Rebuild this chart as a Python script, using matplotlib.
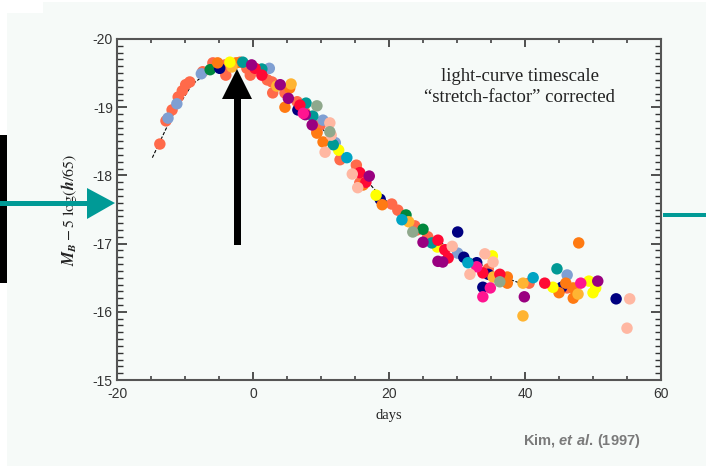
import matplotlib
matplotlib.use("Agg")
import matplotlib.pyplot as plt
from matplotlib.patches import Polygon
from matplotlib.ticker import MultipleLocator

plt.rcParams['axes.unicode_minus'] = False
plt.rcParams['mathtext.fontset'] = 'custom'
plt.rcParams['mathtext.it'] = 'Liberation Sans:italic:bold'
plt.rcParams['mathtext.rm'] = 'Liberation Sans:bold'

# ---------------- data (days, M_B - 5log(h/65)) ----------------
coral_d = [-13.7, -12.8, -11.9, -11.0, -10.4, -9.9, -9.3, -7.4, -5.9, -4.1, -4.0, -1.9, -0.9, -0.4,
           2.1, 2.8, 2.9, 4.7, 6.5, 7.6, 9.9, 9.4, 12.8, 15.2, 15.3, 15.7, 20.4, 21.3, 23.8, 24.1,
           25.7, 34.6, 40.6, 46.2]
coral_m = [-18.46, -18.80, -18.96, -19.15, -19.24, -19.33, -19.37, -19.52, -19.65, -19.62, -19.47,
           -19.66, -19.57, -19.47, -19.40, -19.37, -19.21, -19.21, -19.08, -18.93, -18.74, -18.64,
           -18.23, -18.15, -18.08, -17.89, -17.58, -17.49, -17.26, -17.20, -17.10, -16.63, -16.42,
           -16.35]
orange_d = [-5.2, -2.5, 5.4, 4.7, 9.4, 10.3, 16.2, 19.0, 37.4, 37.4, 46.0, 45.0, 47.1, 47.1, 47.9]
orange_m = [-19.65, -19.65, -19.28, -19.00, -18.62, -18.49, -17.86, -17.57, -16.51, -16.42, -16.42,
            -16.28, -16.20, -16.35, -17.01]
gold_d = [-3.1, 3.5, 5.6, 22.9, 35.3, 39.7, 39.7, 47.8]
gold_m = [-19.59, -19.31, -19.34, -17.32, -16.51, -16.42, -15.94, -16.26]
steel_d = [-11.2, -12.5, -7.6, 2.4, 10.3, 12.1, 30.1, 46.2]
steel_m = [-19.05, -18.84, -19.49, -19.57, -18.81, -18.48, -16.86, -16.54]
green_d = [-6.3, 22.5, 25.0]
green_m = [-19.55, -17.42, -17.21]
navy_d = [-4.9, 6.6, 18.7, 30.1, 31.0, 32.9, 34.6, 33.8, 45.4, 53.4]
navy_m = [-19.57, -18.96, -17.65, -17.17, -16.80, -16.72, -16.55, -16.36, -16.36, -16.19]
yellow_d = [-3.4, 12.6, 18.1, 27.1, 35.2, 44.1, 49.4, 50.4, 50.0]
yellow_m = [-19.66, -18.37, -17.71, -16.95, -16.82, -16.36, -16.45, -16.35, -16.28]
teal_d = [-1.5, 1.3, 7.8, 8.8, 11.8, 26.3, 44.7]
teal_m = [-19.66, -19.56, -19.06, -18.87, -18.45, -17.01, -16.63]
red_d = [0.3, 1.3, 6.9, 16.6, 15.7, 27.2, 28.2, 28.7, 33.8, 36.3, 42.9]
red_m = [-19.57, -19.47, -19.03, -17.90, -18.04, -17.05, -16.91, -16.79, -16.57, -16.55, -16.42]
purple_d = [-0.2, 4.0, 5.2, 7.7, 8.7, 17.1, 25.0, 27.2, 27.9, 39.9, 50.7]
purple_m = [-19.62, -19.33, -19.13, -18.89, -18.74, -17.99, -17.02, -16.74, -16.73, -16.22, -16.45]
pink_d = [7.4, 32.9, 34.9, 33.8, 48.2]
pink_m = [-18.91, -16.66, -16.35, -16.22, -16.42]
peach_d = [11.3, 11.5, 10.6, 14.6, 15.4, 29.3, 31.9, 34.1, 35.3, 55.4, 55.0]
peach_m = [-18.77, -18.59, -18.34, -18.02, -17.82, -16.96, -16.55, -16.85, -16.73, -16.19, -15.76]
sage_d = [9.4, 11.3, 23.5, 36.3]
sage_m = [-19.02, -18.64, -17.17, -16.44]
cyan_d = [13.8, 21.9, 31.6, 41.2]
cyan_m = [-18.26, -17.35, -16.72, -16.50]

template_d = [-14.8, -12, -9, -6, -3, 0, 3, 6, 9, 12, 15, 18, 21, 24, 27, 30, 33, 36, 39]
template_m = [-18.26, -18.85, -19.33, -19.56, -19.65, -19.62, -19.42, -19.13, -18.83, -18.47,
              -18.12, -17.78, -17.49, -17.25, -17.05, -16.88, -16.73, -16.54, -16.43]

series = [
    (coral_d, coral_m, '#ff6a4a'), (steel_d, steel_m, '#7f9fd2'), (green_d, green_m, '#00873d'),
    (navy_d, navy_m, '#000080'), (orange_d, orange_m, '#ff7a12'), (gold_d, gold_m, '#ffb432'),
    (yellow_d, yellow_m, '#ffff00'), (teal_d, teal_m, '#009995'), (red_d, red_m, '#ff0a35'),
    (purple_d, purple_m, '#990080'), (pink_d, pink_m, '#ff1490'), (peach_d, peach_m, '#ffb7a2'),
    (sage_d, sage_m, '#8fa88c'), (cyan_d, cyan_m, '#00a4c4'),
]

W, H = 706, 466
BG = '#f6faf8'
fig = plt.figure(figsize=(W / 100, H / 100), dpi=100, facecolor=BG)

ax = fig.add_axes([117 / W, 1 - 380 / H, 544 / W, 341 / H])
ax.set_facecolor(BG)

ax.plot(template_d, template_m, color='black', lw=0.8, ls=(0, (3, 1.5)), zorder=1)
for d, m, c in series:
    ax.scatter(d, m, s=68, color=c, edgecolors='none', zorder=2)

ax.set_xlim(-20, 60)
ax.set_ylim(-15, -20)
ax.xaxis.set_major_locator(MultipleLocator(20))
ax.xaxis.set_minor_locator(MultipleLocator(5))
ax.yaxis.set_major_locator(MultipleLocator(1))
ax.yaxis.set_minor_locator(MultipleLocator(0.1))

for s in ax.spines.values():
    s.set_color('#555555')
    s.set_linewidth(1.5)

ax.tick_params(axis='both', which='both', direction='in', top=True, right=True,
               colors='#333333', labelsize=10)
ax.tick_params(axis='x', which='major', length=6, width=1.2, pad=5)
ax.tick_params(axis='x', which='minor', length=3, width=1.1)
ax.tick_params(axis='y', which='major', length=7.5, width=1.2, pad=3)
ax.tick_params(axis='y', which='minor', length=4.5, width=1.0)
for lab in ax.get_xticklabels() + ax.get_yticklabels():
    lab.set_fontfamily('Liberation Sans')

ax.set_xlabel('days', family='Liberation Serif', fontsize=10.5, color='#222222', labelpad=6)
ax.set_ylabel(r'$\mathbfit{M}_{\mathbfit{B}} - 5\ \mathrm{log}(\mathbfit{h}/65)$', fontsize=11.5,
              color='#222222', labelpad=10, math_fontfamily='stix')

ax.text(0.74, 0.86, 'light-curve timescale\n\u201cstretch-factor\u201d corrected',
        transform=ax.transAxes, ha='center', va='center', family='Liberation Serif',
        fontsize=13.5, color='#222222', linespacing=1.3)

fig.text(582 / W, 1 - 441 / H, r'Kim, $et\ al.\,$(1997)', ha='center', va='center',
         family='Liberation Sans', fontweight='bold', fontsize=10.5, color='#7a7a7a',
         math_fontfamily='custom')


def px(x, y):
    return (x / W, 1 - y / H)


def poly(pts, color, z=10):
    fig.add_artist(Polygon([px(*p) for p in pts], closed=True, facecolor=color,
                           edgecolor='none', transform=fig.transFigure, zorder=z))


# white margins
poly([(0, 0), (7, 0), (7, H), (0, H)], 'white', 5)
poly([(0, 0), (43, 0), (43, 13), (0, 13)], 'white', 5)
poly([(0, 0), (W, 0), (W, 2), (0, 2)], 'white', 5)

# black bar on the left
poly([(0, 135), (7, 135), (7, 283), (0, 283)], 'black', 11)

# teal arrow from the left
teal = '#009a96'
poly([(0, 200.5), (88, 200.5), (88, 205.5), (0, 205.5)], teal, 12)
poly([(87, 188), (115, 203), (87, 219)], teal, 12)
# teal line on the right
poly([(663, 213), (W, 213), (W, 217), (663, 217)], teal, 12)

# black vertical arrow
poly([(233.5, 245), (240.5, 245), (240.5, 98), (233.5, 98)], 'black', 12)
poly([(222, 99), (237, 69), (252, 99)], 'black', 12)

fig.savefig('out.png', dpi=100, facecolor=BG)
